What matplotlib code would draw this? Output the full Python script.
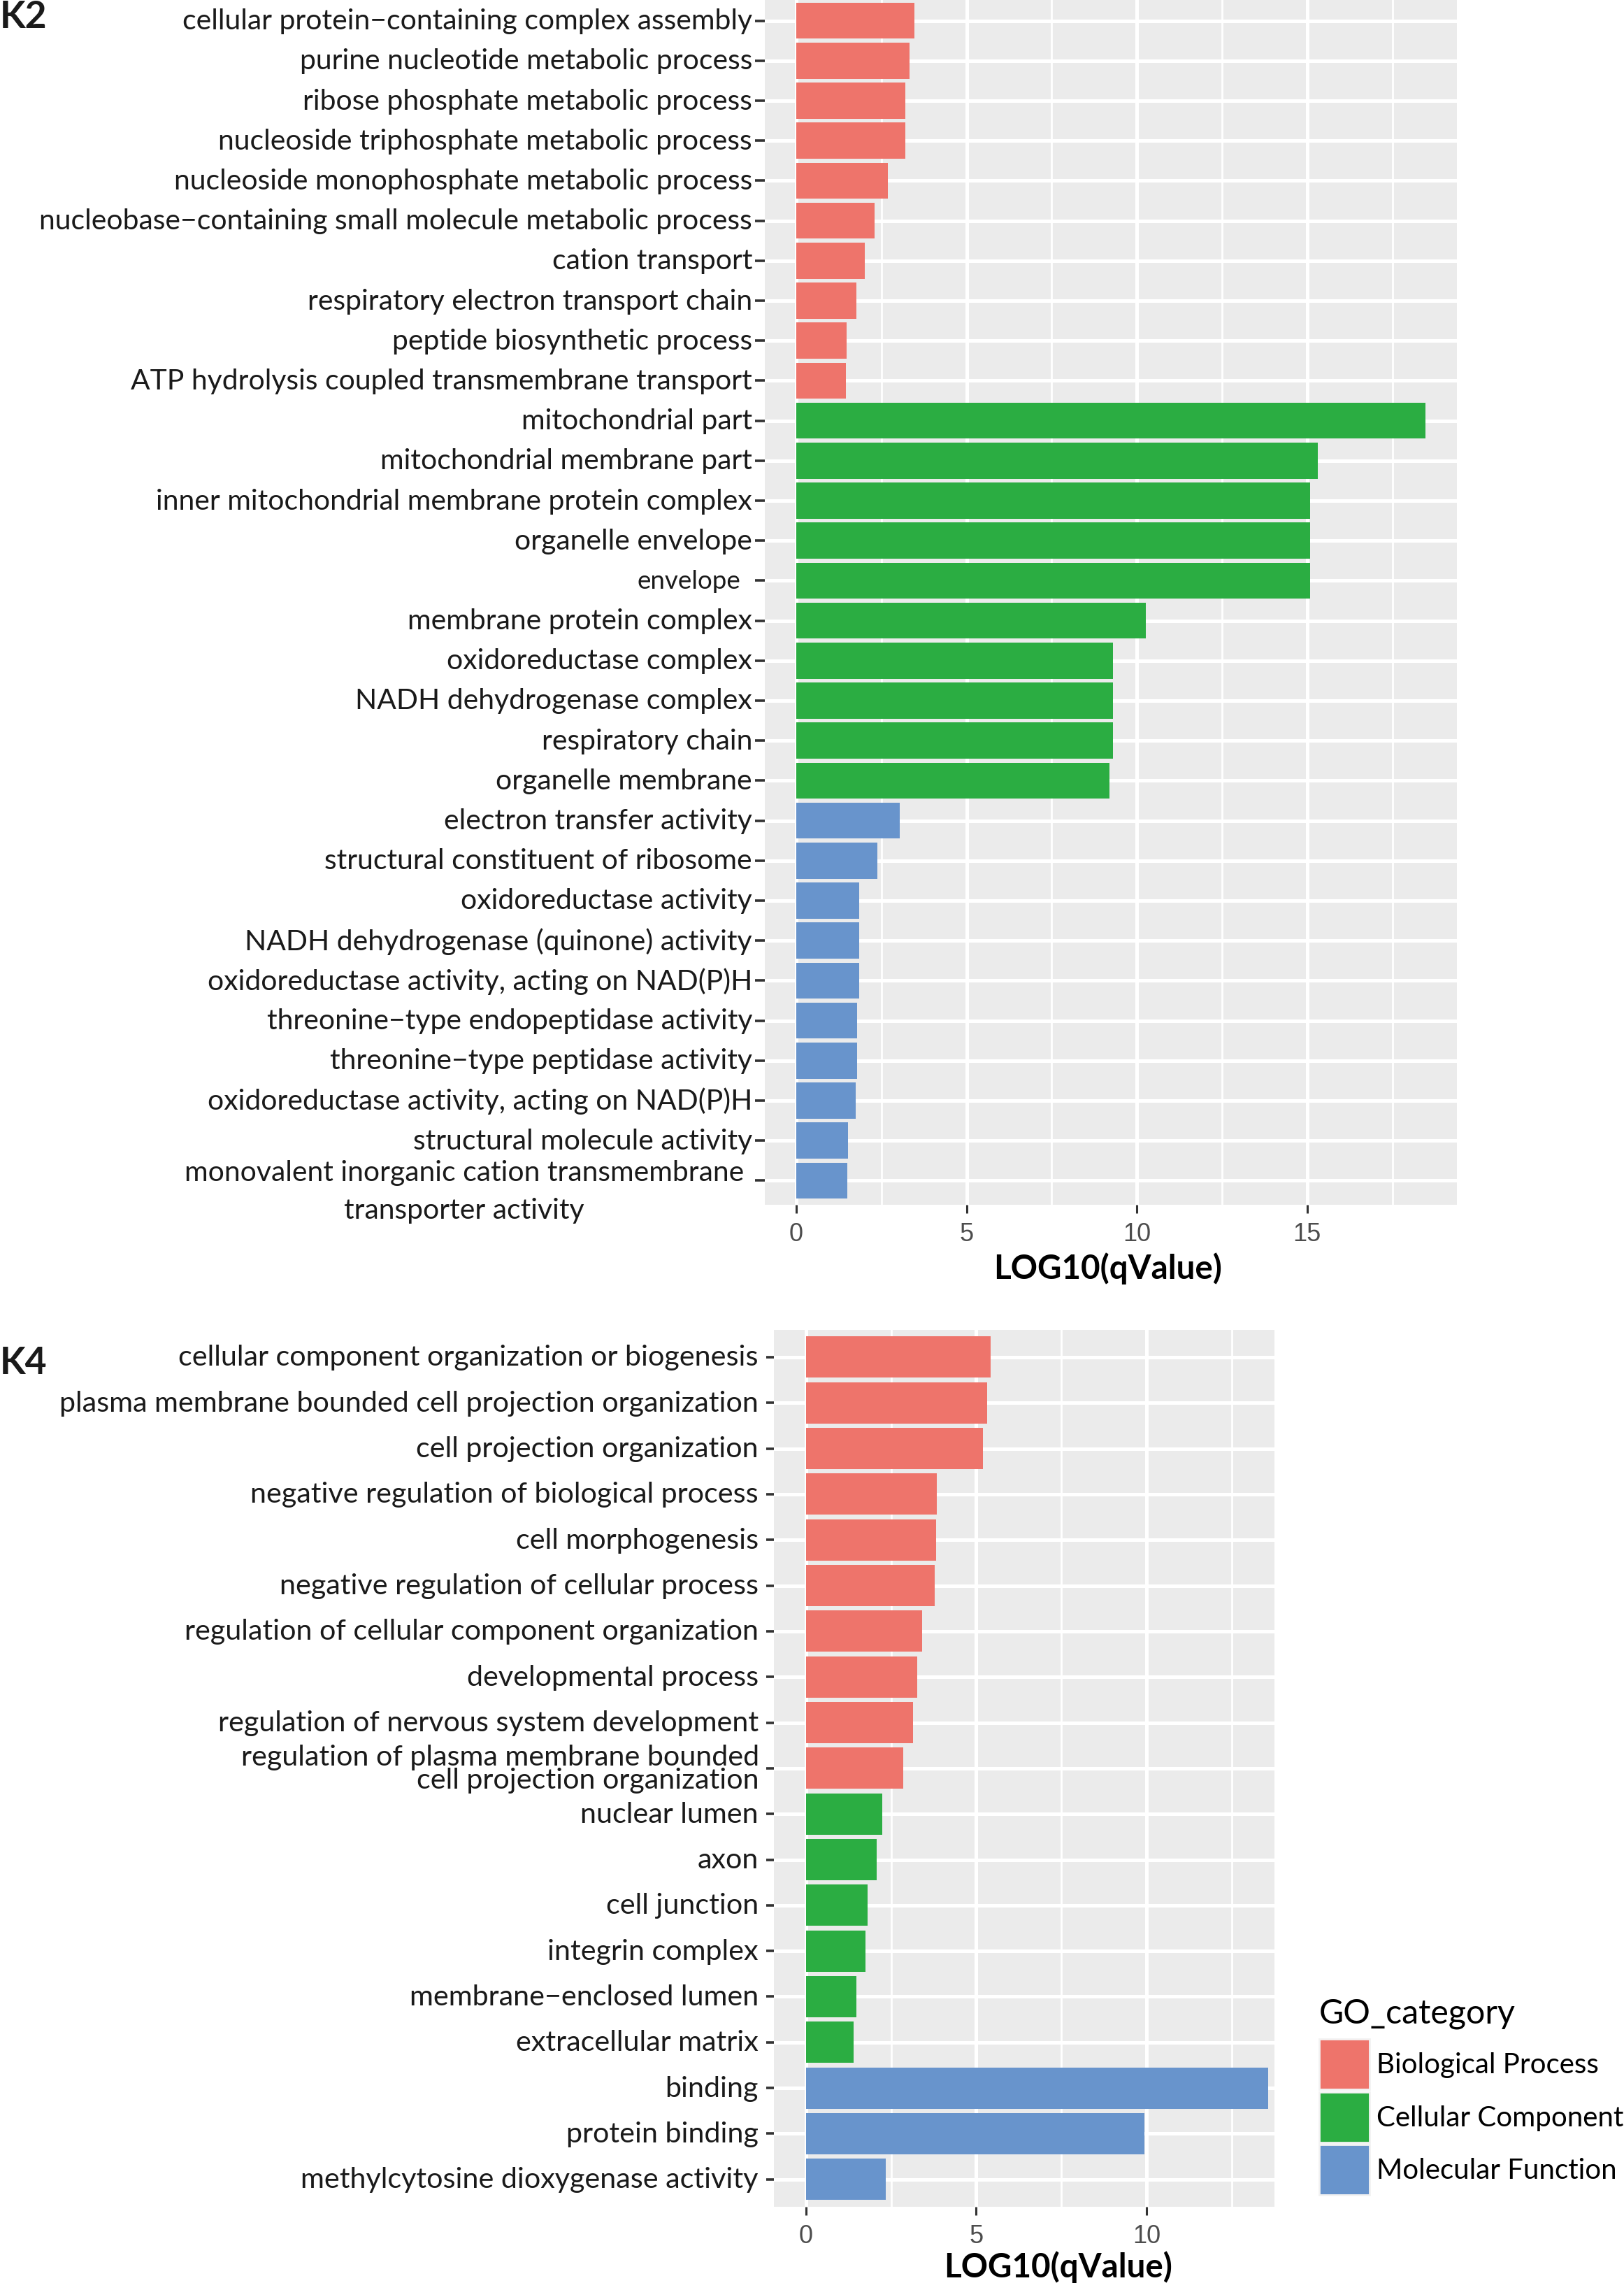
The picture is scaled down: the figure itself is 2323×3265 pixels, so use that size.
#!/usr/bin/env python

""" GO enrichment bar charts for clusters K2 and K4 """

import numpy as np
import matplotlib.pyplot as plt
from matplotlib.font_manager import FontProperties
from matplotlib.textpath import TextPath
from matplotlib.patches import Patch

W, H, DPI = 2323, 3266, 100
SANS = ['Lato', 'DejaVu Sans']

# ---- data ----
k2_terms = [
    "cellular protein\u2212containing complex assembly",
    "purine nucleotide metabolic process",
    "ribose phosphate metabolic process",
    "nucleoside triphosphate metabolic process",
    "nucleoside monophosphate metabolic process",
    "nucleobase\u2212containing small molecule metabolic process",
    "cation transport",
    "respiratory electron transport chain",
    "peptide biosynthetic process",
    "ATP hydrolysis coupled transmembrane transport",
    "mitochondrial part",
    "mitochondrial membrane part",
    "inner mitochondrial membrane protein complex",
    "organelle envelope",
    "envelope",
    "membrane protein complex",
    "oxidoreductase complex",
    "NADH dehydrogenase complex",
    "respiratory chain",
    "organelle membrane",
    "electron transfer activity",
    "structural constituent of ribosome",
    "oxidoreductase activity",
    "NADH dehydrogenase (quinone) activity",
    "oxidoreductase activity, acting on NAD(P)H",
    "threonine\u2212type endopeptidase activity",
    "threonine\u2212type peptidase activity",
    "oxidoreductase activity, acting on NAD(P)H",
    "structural molecule activity",
    "monovalent inorganic cation transmembrane\ntransporter activity",
]
k2_values = [3.47, 3.32, 3.21, 3.21, 2.70, 2.30, 2.02, 1.77, 1.48, 1.45,
             18.47, 15.31, 15.09, 15.09, 15.09, 10.26, 9.29, 9.29, 9.29, 9.20,
             3.04, 2.38, 1.85, 1.85, 1.85, 1.79, 1.79, 1.74, 1.52, 1.50]
k2_groups = ['BP'] * 10 + ['CC'] * 10 + ['MF'] * 10

k4_terms = [
    "cellular component organization or biogenesis",
    "plasma membrane bounded cell projection organization",
    "cell projection organization",
    "negative regulation of biological process",
    "cell morphogenesis",
    "negative regulation of cellular process",
    "regulation of cellular component organization",
    "developmental process",
    "regulation of nervous system development",
    "regulation of plasma membrane bounded\ncell projection organization",
    "nuclear lumen",
    "axon",
    "cell junction",
    "integrin complex",
    "membrane\u2212enclosed lumen",
    "extracellular matrix",
    "binding",
    "protein binding",
    "methylcytosine dioxygenase activity",
]
k4_values = [5.43, 5.32, 5.19, 3.85, 3.81, 3.78, 3.40, 3.26, 3.14, 2.85,
             2.24, 2.07, 1.80, 1.74, 1.47, 1.39,
             13.57, 9.95, 2.34]
k4_groups = ['BP'] * 10 + ['CC'] * 6 + ['MF'] * 3

group_names = {'BP': 'Biological Process', 'CC': 'Cellular Component', 'MF': 'Molecular Function'}
palette = {'BP': '#EE746B', 'CC': '#2BAD42', 'MF': '#6894CC'}


def size_for(text, width_px, weight='normal', family=SANS):
    """ font size in pt that makes the ink of text about width_px wide """
    path = TextPath((0, 0), text, size=100, prop=FontProperties(family=family, weight=weight))
    return 100 * width_px * 72 / DPI / path.get_extents().width


def px_axes(left, right, top, bottom):
    """ axes rectangle from pixel edges """
    return [left / W, 1 - bottom / H, (right - left) / W, (bottom - top) / H]


def draw_panel(ax, terms, values, groups, xlim, minor, label_size, tick_len, tick_pad, skip):
    y = np.arange(len(terms))
    ax.barh(y, values, height=0.9, color=[palette[g] for g in groups], zorder=3)
    ax.set_xlim(*xlim)
    ax.set_ylim(len(terms) - 0.4, -0.6)
    ax.set_xticks([t for t in [0, 5, 10, 15] if t < xlim[1]])
    ax.set_xticks(minor, minor=True)
    ax.set_facecolor('#EBEBEB')
    for side in ax.spines.values():
        side.set_visible(False)
    ax.set_axisbelow(True)
    ax.grid(which='major', color='white', lw=3.6)
    ax.grid(which='minor', axis='x', color='white', lw=2.0)
    ax.tick_params(which='minor', length=0)
    ax.tick_params(axis='x', length=8.6, width=2.2, color='#333333', pad=8.7,
                   labelsize=26, labelcolor='#4D4D4D')
    ax.tick_params(axis='y', length=tick_len, width=2.6, color='#333333', pad=tick_pad)
    for lab in ax.get_xticklabels():
        lab.set_fontfamily('Liberation Sans')
    ax.set_yticks(y)
    # labels drawn by hand are left blank here
    shown = ['' if i in skip else t for i, t in enumerate(terms)]
    ax.set_yticklabels(shown, family=SANS, fontsize=label_size, color='#1A1A1A')
    for lab in ax.get_yticklabels():
        lab.set_va('center')


fig = plt.figure(figsize=(W / DPI, H / DPI), dpi=DPI)

############ K2 ############
k2_size = size_for(k2_terms[5], 1015)
ax1 = fig.add_axes(px_axes(1094, 2083.7, -3.7, 1723.7))
draw_panel(ax1, k2_terms, k2_values, k2_groups, (-0.921, 19.39), [2.5, 7.5, 12.5, 17.5],
           k2_size, 10, 2.9, skip=(14, 29))
ax1.text((1059 - 1094) / 989.7, 14, k2_terms[14], transform=ax1.get_yaxis_transform(),
         ha='right', va='center', family=SANS, fontsize=k2_size * 0.9, color='#1A1A1A')
ax1.text((1064 - 1094) / 989.7, 28.47, k2_terms[29], transform=ax1.get_yaxis_transform(),
         ha='right', va='top', multialignment='center', linespacing=1.55,
         family=SANS, fontsize=k2_size, color='#1A1A1A')

############ K4 ############
k4_size = size_for(k4_terms[1], 994)
ax2 = fig.add_axes(px_axes(1107, 1822.5, 1902.7, 3157))
draw_panel(ax2, k4_terms, k4_values, k4_groups, (-0.945, 13.75), [2.5, 7.5, 12.5],
           k4_size, 8, 8, skip=(9,))
ax2.text((1086 - 1107) / 715.5, 8.47, k4_terms[9], transform=ax2.get_yaxis_transform(),
         ha='right', va='top', multialignment='right', linespacing=0.85,
         family=SANS, fontsize=k4_size, color='#1A1A1A')

# axis titles and panel tags
title_size = size_for("LOG10(qValue)", 321, weight='bold')
fig.text(1585 / W, 1 - 1814 / H, "LOG10(qValue)", ha='center', va='center',
         family=SANS, weight='bold', fontsize=title_size)
fig.text(1514 / W, 1 - 3242 / H, "LOG10(qValue)", ha='center', va='center',
         family=SANS, weight='bold', fontsize=title_size)
tag_size = size_for("K4", 62, weight='bold')
fig.text(0, 1 - 40 / H, "K2", ha='left', va='baseline', family=SANS, weight='bold',
         fontsize=tag_size, color='#1A1A1A')
fig.text(0, 1 - 1965 / H, "K4", ha='left', va='baseline', family=SANS, weight='bold',
         fontsize=tag_size, color='#1A1A1A')

# legend: title as its own text, keys below it
leg_size = size_for("Cellular Component", 351)
leg_title_size = size_for("GO_category", 278)
fig.text(1887 / W, 1 - 2880 / H, "GO_category", ha='left', va='center',
         family=SANS, fontsize=leg_title_size, color='black')
fs_px = leg_size * DPI / 72
key_px = 72
key_h = (key_px / fs_px - 0.245) / 0.65   # matplotlib shrinks the handle box height
handles = [Patch(facecolor=palette[g], edgecolor='#F2F2F2', lw=2) for g in group_names]
fig.legend(handles, list(group_names.values()), loc='upper left',
           bbox_to_anchor=(1887 / W, 1 - 2917 / H), frameon=False,
           borderpad=0, borderaxespad=0,
           handlelength=key_px / fs_px, handleheight=key_h,
           handletextpad=10 / fs_px, labelspacing=3.5 / fs_px,
           prop=FontProperties(family=SANS, size=leg_size))

plt.savefig("out.png", dpi=DPI)
plt.close()
